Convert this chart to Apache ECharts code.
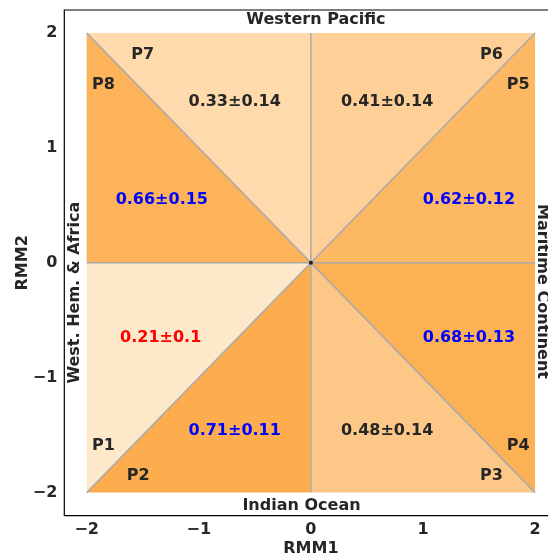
<!DOCTYPE html>
<html><head><meta charset="utf-8">
<script src="https://cdn.jsdelivr.net/npm/echarts@6/dist/echarts.min.js"></script>
<style>html,body{margin:0;padding:0;background:#fff}#c{width:548px;height:556px}</style>
</head><body><div id="c"></div>
<script>
// ---- data ----
const phases = ['P1','P2','P3','P4','P5','P6','P7','P8'];
const means  = [0.21, 0.71, 0.48, 0.68, 0.62, 0.41, 0.33, 0.66];
const stds   = [0.1, 0.11, 0.14, 0.13, 0.12, 0.14, 0.14, 0.15];
const regions = ['West. Hem. & Africa','Indian Ocean','Maritime Continent','Western Pacific'];
const tickValues = [-2, -1, 0, 1, 2];

// ---- geometry / layout (not data) ----
const phaseCorners = [
  [[-2,0],[-2,-2]], [[-2,-2],[0,-2]], [[0,-2],[2,-2]], [[2,-2],[2,0]],
  [[2,0],[2,2]], [[2,2],[0,2]], [[0,2],[-2,2]], [[-2,2],[-2,0]]
];
const phaseLabelPos = [[-1.85,-1.59],[-1.54,-1.85],[1.61,-1.85],[1.85,-1.59],[1.85,1.55],[1.61,1.81],[-1.5,1.81],[-1.85,1.55]];
const valueLabelPos = [[-1.34,-0.65],[-0.68,-1.46],[0.68,-1.46],[1.41,-0.65],[1.41,0.55],[0.68,1.4],[-0.68,1.4],[-1.33,0.55]];
const valueColor = ['#ff0000','#0000ff','#262626','#0000ff','#0000ff','#262626','#262626','#0000ff'];
const regionPos = [[-2.104,-0.26],[-0.084,-2.117],[2.066,-0.25],[0.045,2.113]];
const regionRot = [Math.PI/2, 0, -Math.PI/2, 0];
const dividers = [[[-2,-2],[2,2]],[[-2,2],[2,-2]],[[-2,0],[2,0]],[[0,-2],[0,2]]];

const FONT = 'DejaVu Sans';
const TXT = '#262626';
function hex(c){return [parseInt(c.slice(1,3),16),parseInt(c.slice(3,5),16),parseInt(c.slice(5,7),16)];}
const cLo = hex('#fee8ca'), cHi = hex('#fdad4e');
const vLo = Math.min(...means), vHi = Math.max(...means);
function colorFor(v){
  const t = (v - vLo)/(vHi - vLo);
  const c = cLo.map((a,k)=>Math.round(a + (cHi[k]-a)*t));
  return 'rgb('+c.join(',')+')';
}
function fmtTick(v){ return v < 0 ? '\u2212' + Math.abs(v) : String(v); }

// text items
const textItems = [];
phases.forEach((p,i)=>textItems.push({pos:phaseLabelPos[i], text:p, color:TXT, rot:0}));
phases.forEach((p,i)=>textItems.push({pos:valueLabelPos[i], text:means[i]+'\u00b1'+stds[i], color:valueColor[i], rot:0}));
regions.forEach((r,i)=>textItems.push({pos:regionPos[i], text:r, color:TXT, rot:regionRot[i]}));

const chart = echarts.init(document.getElementById('c'), null, {renderer:'canvas'});
chart.setOption({
  backgroundColor:'#fff',
  animation:false,
  grid:{left:64.3, top:10, width:493.2, height:505.6, show:true, borderColor:'#000', borderWidth:1.2, backgroundColor:'transparent', containLabel:false, outerBoundsMode:'none'},
  xAxis:{type:'value', min:-2.2, max:2.2,
    name:'RMM1', nameLocation:'middle', nameGap:25, nameMoveOverlap:false,
    nameTextStyle:{fontFamily:FONT, fontWeight:'bold', fontSize:16, color:TXT},
    axisLine:{show:false}, axisTick:{show:false, customValues:tickValues}, splitLine:{show:false},
    axisLabel:{customValues:tickValues, formatter:fmtTick, margin:6, fontFamily:FONT, fontWeight:'bold', fontSize:16, color:TXT}},
  yAxis:{type:'value', min:-2.2, max:2.2,
    name:'RMM2', nameLocation:'middle', nameGap:33, nameRotate:90, nameMoveOverlap:false,
    nameTextStyle:{fontFamily:FONT, fontWeight:'bold', fontSize:16, color:TXT},
    axisLine:{show:false}, axisTick:{show:false, customValues:tickValues}, splitLine:{show:false},
    axisLabel:{customValues:tickValues, formatter:fmtTick, margin:7, fontFamily:FONT, fontWeight:'bold', fontSize:16, color:TXT}},
  series:[
    {type:'custom', coordinateSystem:'cartesian2d', z:1,
     data: phases.map((p,i)=>[i, means[i]]),
     encode:{x:0, y:1},
     renderItem:(params, api)=>{
       const i = params.dataIndex;
       const pts = [[0,0]].concat(phaseCorners[i]).map(c=>api.coord(c));
       return {type:'polygon', shape:{points:pts}, style:{fill:colorFor(means[i]), stroke:null}};
     }},
    {type:'custom', coordinateSystem:'cartesian2d', z:2,
     data: dividers.map((d,i)=>[i,0]),
     renderItem:(params, api)=>{
       const d = dividers[params.dataIndex];
       const a = api.coord(d[0]), b = api.coord(d[1]);
       return {type:'line', shape:{x1:a[0],y1:a[1],x2:b[0],y2:b[1]}, style:{stroke:'#aaaaaa', lineWidth:1.5}};
     }},
    {type:'scatter', z:3, data:[[0,0]], symbolSize:4, itemStyle:{color:'#000'}, silent:true},
    {type:'custom', coordinateSystem:'cartesian2d', z:4,
     data: textItems.map((t,i)=>[i,0]),
     renderItem:(params, api)=>{
       const t = textItems[params.dataIndex];
       const p = api.coord(t.pos);
       return {type:'text', x:p[0], y:p[1], rotation:t.rot,
         style:{text:t.text, fill:t.color, font:'bold 16px "DejaVu Sans"', align:'center', verticalAlign:'middle'}};
     }}
  ]
});
</script></body></html>
